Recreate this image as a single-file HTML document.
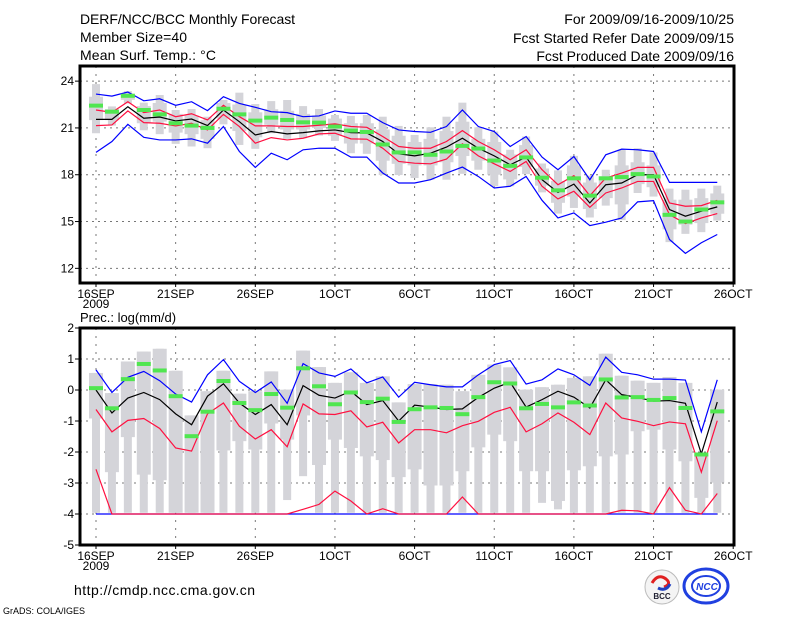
<!DOCTYPE html>
<html><head><meta charset="utf-8"><style>
body{margin:0;background:#fff;width:800px;height:618px;overflow:hidden}
svg{display:block;font-family:"Liberation Sans",sans-serif}
</style></head><body>
<svg id="chart" width="800" height="618" viewBox="0 0 800 618" xmlns="http://www.w3.org/2000/svg">
<rect x="0" y="0" width="800" height="618" fill="#fff"/>
<g font-size="14" fill="#000">
<text x="80" y="24" textLength="215">DERF/NCC/BCC Monthly Forecast</text>
<text x="80" y="42" textLength="107">Member Size=40</text>
<text x="80" y="60" textLength="136">Mean Surf. Temp.: °C</text>
<text x="734" y="24" text-anchor="end">For 2009/09/16-2009/10/25</text>
<text x="734" y="43" text-anchor="end">Fcst Started Refer Date 2009/09/15</text>
<text x="734" y="61" text-anchor="end">Fcst Produced Date 2009/09/16</text>
</g>
<text x="80" y="322" font-size="13">Prec.: log(mm/d)</text>
<text x="74" y="595" font-size="14" textLength="181">http://cmdp.ncc.cma.gov.cn</text>
<text x="3" y="614" font-size="9">GrADS: COLA/IGES</text>
<g>
<circle cx="662" cy="587" r="17" fill="#f4f4f4" stroke="#bbb"/>
<path d="M652 583 q6 -10 14 -4 q6 5 -2 8" fill="none" stroke="#e02020" stroke-width="3"/>
<path d="M670 584 q-4 8 -12 4" fill="none" stroke="#2040c0" stroke-width="3"/>
<text x="662" y="599" font-size="8" font-weight="bold" text-anchor="middle" fill="#223">BCC</text>
</g>
<g>
<ellipse cx="706" cy="586" rx="22" ry="17" fill="none" stroke="#2040e0" stroke-width="3"/>
<ellipse cx="706" cy="586" rx="14" ry="10" fill="none" stroke="#2040e0" stroke-width="2"/>
<text x="707" y="590" font-size="10" font-style="italic" font-weight="bold" text-anchor="middle" fill="#2040e0">NCC</text>
</g>
<g id="top"></g>
<g id="bot"></g>
</svg>
<script>
const xTickLabels=["16SEP","21SEP","26SEP","1OCT","6OCT","11OCT","16OCT","21OCT","26OCT"];
const xTickDays=[0,5,10,15,20,25,30,35,40];
// Temperature
const tTicks=[12,15,18,21,24];
const tMean=[21.55,21.55,22.36,21.62,21.7,21.45,21.57,21.15,22.15,21.4,20.55,20.77,20.62,20.7,20.81,20.87,20.7,20.68,20.13,19.34,19.21,19.38,19.77,20.34,19.7,19.21,18.64,19.13,17.68,16.87,17.4,16.19,17.36,17.47,18.0,18.0,15.77,15.34,15.66,15.94];
const tRedHi=[22.15,22.0,22.68,21.98,22.15,21.72,21.91,21.51,22.45,21.72,21.13,21.13,21.09,21.09,21.17,21.26,21.09,21.04,20.45,19.81,19.7,19.7,20.13,20.83,20.13,19.6,18.96,19.6,18.32,17.36,17.94,16.66,17.79,18.11,18.47,18.47,16.19,15.98,16.02,16.36];
const tRedLo=[21.15,21.19,22.09,21.34,21.3,21.13,21.3,20.87,21.87,21.09,20.02,20.38,20.23,20.34,20.62,20.66,20.3,20.28,19.7,18.85,18.74,18.7,19.0,19.98,19.21,18.7,18.21,18.85,17.26,16.45,16.94,15.91,16.83,17.15,17.57,17.57,15.45,14.87,15.23,15.51];
const tBlueHi=[23.17,23.04,23.3,22.74,22.87,22.45,22.68,22.11,23.0,22.57,22.32,22.04,21.98,21.72,21.77,22.09,21.94,21.94,21.34,20.87,20.77,20.72,21.09,22.15,21.09,20.77,19.81,20.45,19.13,18.32,19.17,17.68,19.28,19.64,19.6,19.49,17.51,17.51,17.51,17.51];
const tBlueLo=[19.43,20.13,21.23,20.4,20.23,20.23,20.3,20.02,21.09,19.49,18.47,19.38,18.96,19.6,19.7,19.7,19.13,19.13,18.11,17.47,17.47,17.68,18.11,18.49,17.89,17.15,17.26,17.89,16.36,15.23,15.55,14.74,14.96,15.23,16.26,16.34,13.85,12.96,13.64,14.17];
const tGreen=[22.43,22.04,23.06,22.15,21.87,21.3,21.15,21.0,22.23,21.87,21.47,21.66,21.51,21.36,21.34,21.09,20.83,20.74,19.94,19.43,19.43,19.28,19.49,19.85,19.68,18.91,18.57,19.11,17.81,17.0,17.77,16.66,17.77,17.85,18.04,17.89,15.43,15.0,15.77,16.23];
const tMax=[23.81,22.38,23.36,22.62,23.11,22.15,22.21,21.72,22.79,23.26,22.53,22.72,22.79,22.4,22.21,21.83,21.77,21.83,21.72,21.13,20.55,21.04,21.72,22.62,21.04,20.77,19.6,20.45,18.72,18.28,19.21,17.94,18.32,19.6,19.7,19.43,17.11,17.04,17.11,17.3];
const tMin=[20.66,21.15,22.57,20.85,20.6,19.98,19.81,19.7,21.23,19.91,19.66,20.66,20.3,20.34,20.51,20.17,19.38,19.34,17.98,17.98,17.79,17.68,17.68,18.06,18.32,17.26,17.26,18.04,16.87,15.51,15.87,15.26,16.02,15.09,16.83,16.6,13.68,14.21,14.32,15.06];
const tQ3=[23.0,22.2,23.2,22.4,22.6,21.9,21.8,21.5,22.6,22.5,22.0,22.2,22.1,21.9,21.8,21.6,21.3,21.3,20.9,20.5,20.1,20.3,20.8,21.4,20.3,20.1,19.3,19.9,18.4,17.6,18.6,17.5,17.9,18.6,18.8,18.6,16.4,16.4,16.5,16.8];
const tQ1=[21.5,21.5,22.8,21.3,21.4,20.7,20.6,20.3,21.6,20.8,20.4,21.2,20.9,20.9,21.0,20.5,20.0,20.0,18.9,18.7,18.6,18.6,18.8,19.2,18.9,18.0,17.7,18.5,17.3,16.2,16.6,15.8,16.5,16.1,17.4,17.2,14.5,14.8,14.9,15.5];
// Precipitation
const pTicks=[-5,-4,-3,-2,-1,0,1,2];
const pMean=[0,-0.74,-0.26,-0.08,-0.31,-0.77,-1.12,-0.2,0.2,-0.42,-0.79,-0.47,-1.12,0.14,-0.17,-0.26,-0.04,-0.47,-0.34,-1.0,-0.49,-0.55,-0.63,-0.61,-0.24,0.06,0.25,-0.55,-0.31,-0.04,-0.23,-0.58,0.33,-0.15,-0.24,-0.36,-0.34,-0.43,-2.06,-0.39];
const pBlueHi=[0.65,-0.08,0.41,0.6,0.3,-0.13,-0.39,0.49,0.98,0.28,-0.08,0.26,-0.43,0.85,0.55,0.44,0.68,0.23,0.42,-0.23,0.25,0.17,0.1,0.1,0.49,0.82,0.95,0.19,0.33,0.68,0.49,0.15,1.06,0.57,0.49,0.35,0.35,0.32,-1.35,0.33];
const pRedHi=[-0.63,-1.35,-0.98,-0.92,-1.24,-1.87,-1.97,-0.77,-0.42,-1.17,-1.58,-1.28,-1.83,-0.45,-0.77,-0.79,-0.67,-1.19,-1.04,-1.71,-1.28,-1.28,-1.38,-1.15,-1.01,-0.72,-0.56,-1.35,-1.09,-0.74,-1.04,-1.44,-0.42,-0.9,-1.01,-1.15,-1.03,-1.09,-2.65,-0.99];
const pRedLo=[-2.56,-4,-4,-4,-4,-4,-4,-4,-4,-4,-4,-4,-4,-3.85,-3.69,-3.26,-3.58,-4,-3.83,-4,-4,-4,-4,-3.45,-4,-4,-4,-4,-4,-4,-4,-4,-4,-3.88,-3.9,-4,-3.15,-3.88,-4,-3.34];
const pBlueLo=[-4,-4,-4,-4,-4,-4,-4,-4,-4,-4,-4,-4,-4,-4,-4,-4,-4,-4,-4,-4,-4,-4,-4,-4,-4,-4,-4,-4,-4,-4,-4,-4,-4,-4,-4,-4,-4,-4,-4,-4];
const pGreen=[0.06,-0.59,0.35,0.84,0.63,-0.2,-1.49,-0.7,0.29,-0.42,-0.65,-0.13,-0.57,0.7,0.12,-0.46,-0.08,-0.39,-0.28,-1.03,-0.62,-0.56,-0.58,-0.78,-0.23,0.25,0.21,-0.59,-0.45,-0.56,-0.4,-0.5,0.34,-0.24,-0.23,-0.32,-0.26,-0.58,-2.08,-0.69];
const pMax=[0.55,-0.1,0.92,1.24,1.33,0.62,-0.82,-0.04,0.62,-0.12,-0.04,0.6,0.01,1.27,0.74,0.23,0.57,0.23,0.44,-0.4,0.19,0.19,0.17,-0.04,0.49,0.82,0.73,0.01,0.09,0.17,0.39,0.44,1.17,0.46,0.3,0.23,0.42,0.23,-2.08,0.01];
const pQ1=[-0.92,-2.65,-1.52,-2.73,-2.91,-3.96,-3.96,-3.96,-1.95,-1.65,-1.92,-1.08,-1.6,-0.82,-2.42,-1.6,-1.87,-2.14,-2.26,-2.81,-2.56,-3.08,-3.08,-2.62,-1.85,-1.44,-1.65,-2.62,-2.62,-3.58,-2.59,-2.46,-2.14,-2.08,-1.33,-1.28,-1.92,-2.3,-3.48,-2.99];
const pMin=[-3.96,-3.96,-3.96,-3.96,-3.96,-3.96,-3.96,-3.96,-3.96,-3.96,-3.96,-3.96,-3.55,-2.78,-3.96,-3.96,-3.96,-3.96,-3.96,-3.96,-3.96,-3.96,-3.96,-3.96,-3.96,-3.96,-3.96,-3.96,-3.64,-3.85,-3.96,-3.96,-3.96,-3.96,-3.96,-3.96,-3.96,-3.96,-3.96,-3.96];

const NS="http://www.w3.org/2000/svg";
const X0=80,X1=734;
const xs=d=>96+d*15.93;
function mk(p,tag,at){const e=document.createElementNS(NS,tag);for(const k in at)e.setAttribute(k,at[k]);p.appendChild(e);return e;}
function panel(g,top,bot,vmin,vmax,ticks,series,boxes,tag){
  const ys=v=>bot-(v-vmin)/(vmax-vmin)*(bot-top);
  const grid=mk(g,'g',{});
  
  
  ticks.forEach(t=>{
    const y=ys(t);
    if(Math.abs(y-top)>2&&Math.abs(y-bot)>2){const l=mk(grid,'line',{x1:X0,x2:X1,y1:y,y2:y,stroke:'#777','stroke-dasharray':'2,4'});
    }
    const tk=mk(g,'line',{x1:X0-5,x2:X0,y1:y,y2:y,stroke:'#000'});
    
    const tx=mk(g,'text',{x:X0-6,y:y+4,'font-size':12,'text-anchor':'end'});tx.textContent=t;
    
  });
  xTickDays.forEach((d,i)=>{
    const x=xs(d);
    const l=mk(grid,'line',{x1:x,x2:x,y1:top,y2:bot,stroke:'#777','stroke-dasharray':'2,6'});
    
    const tk=mk(g,'line',{x1:x,x2:x,y1:bot,y2:bot+4,stroke:'#000'});
    
    const tx=mk(g,'text',{x:x,y:bot+15,'font-size':12,'text-anchor':'middle'});tx.textContent=xTickLabels[i];
    
  });
  const yr=mk(g,'text',{x:xs(0),y:bot+25,'font-size':12,'text-anchor':'middle'});yr.textContent='2009';
  
  const bg=mk(g,'g',{fill:'#d4d4d9'});
  
  boxes.max.forEach((mx,i)=>{
    const x=xs(i);
    const a=mk(bg,'rect',{x:x-4,y:ys(mx),width:8,height:ys(boxes.min[i])-ys(mx)});
    
    const b=mk(bg,'rect',{x:x-7,y:ys(boxes.q3[i]),width:14,height:ys(boxes.q1[i])-ys(boxes.q3[i])});
    
  });
  series.forEach(s=>{
    const pl=mk(g,'polyline',{points:s.v.map((v,i)=>xs(i)+','+ys(v)).join(' '),fill:'none',stroke:s.c,'stroke-width':1.2});
    
  });
  boxes.green.forEach((v,i)=>{
    const r=mk(g,'rect',{x:xs(i)-7,y:ys(v)-2,width:14,height:4,fill:'#50e650'});
    
  });
  const fr=mk(g,'rect',{x:X0,y:top,width:X1-X0,height:bot-top,fill:'none',stroke:'#000','stroke-width':3});
  
}
panel(document.getElementById('top'),66,283,11.06,24.97,tTicks,
 [{v:tBlueHi,c:'#0000ff',n:'temp-blue-upper'},{v:tBlueLo,c:'#0000ff',n:'temp-blue-lower'},
  {v:tRedHi,c:'#ff1040',n:'temp-red-upper'},{v:tRedLo,c:'#ff1040',n:'temp-red-lower'},
  {v:tMean,c:'#000',n:'temp-mean-line'}],
 {max:tMax,min:tMin,q3:tQ3,q1:tQ1,green:tGreen},'temp');
panel(document.getElementById('bot'),328,545,-5,2,pTicks,
 [{v:pBlueLo,c:'#0000ff',n:'prec-blue-lower'},{v:pRedLo,c:'#ff1040',n:'prec-red-lower'},
  {v:pBlueHi,c:'#0000ff',n:'prec-blue-upper'},{v:pRedHi,c:'#ff1040',n:'prec-red-upper'},
  {v:pMean,c:'#000',n:'prec-mean-line'}],
 {max:pMax,min:pMin,q3:pMax,q1:pQ1,green:pGreen},'prec');
</script>
</body></html>
